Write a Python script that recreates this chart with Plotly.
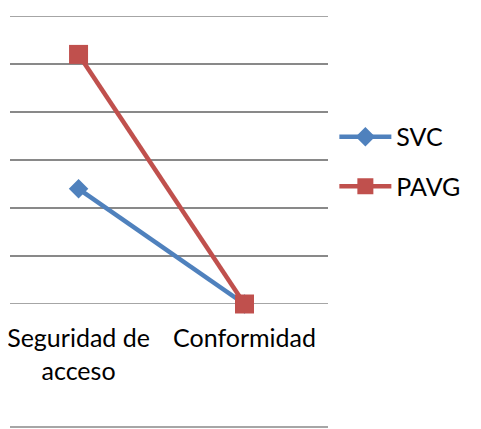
import plotly.graph_objects as go

categories = ["Seguridad de<br>acceso", "Conformidad"]
svc = [2.4, 0.0]
pavg = [5.2, 0.0]

BLUE = "#4F81BD"
RED = "#C0504D"
GRID = "#898989"
FONT = "Lato"

fig = go.Figure()
fig.add_trace(go.Scatter(x=categories, y=svc, name="SVC", mode="lines+markers",
                         legendgroup="a", cliponaxis=False,
                         line=dict(color=BLUE, width=4.5),
                         marker=dict(symbol="diamond", size=15, color=BLUE)))
fig.add_trace(go.Scatter(x=categories, y=pavg, name="PAVG", mode="lines+markers",
                         legendgroup="b", cliponaxis=False,
                         line=dict(color=RED, width=4.5),
                         marker=dict(symbol="square", size=19, color=RED)))

# page body has an 8px margin, so the figure is nudged up/left by that much
fig.update_layout(
    width=481, height=429,
    margin=dict(l=0, r=161, t=8, b=133),
    plot_bgcolor="white", paper_bgcolor="white",
    font=dict(family=FONT, size=25, color="black"),
    showlegend=True,
    legend=dict(x=1.02, y=0.495, xanchor="left", yanchor="middle",
                traceorder="grouped", tracegroupgap=14,
                font=dict(family=FONT, size=25), itemwidth=52),
    xaxis=dict(type="category", range=[-0.413, 1.503], showgrid=False,
               showline=False, ticks="", zeroline=False, ticklabelstandoff=17,
               tickfont=dict(family=FONT, size=25)),
    yaxis=dict(range=[0, 6.0], dtick=1, showticklabels=False, ticks="",
               showgrid=True, gridcolor=GRID, gridwidth=1.6,
               zeroline=False, showline=False),
    shapes=[dict(type="line", xref="paper", yref="paper", x0=0, x1=1,
                 y0=-0.427, y1=-0.427, line=dict(color=GRID, width=1.6)),
            dict(type="line", xref="paper", yref="y", x0=0, x1=1,
                 y0=0, y1=0, layer="below", line=dict(color=GRID, width=1.6)),
            dict(type="line", xref="paper", yref="y", x0=0, x1=1,
                 y0=6, y1=6, layer="below", line=dict(color=GRID, width=1.6))],
)

fig.write_html("out.html")
